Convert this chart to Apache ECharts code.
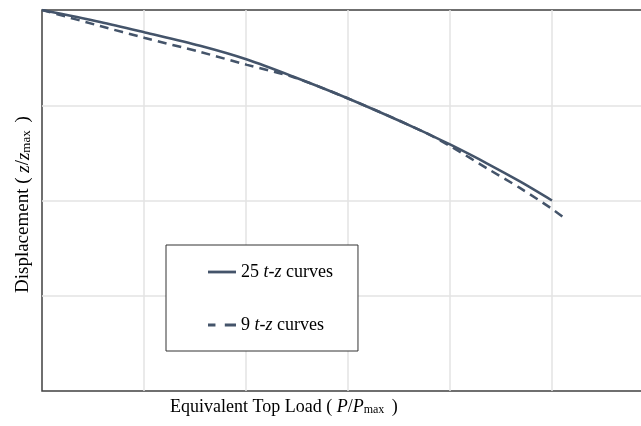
<!DOCTYPE html>
<html>
<head>
<meta charset="utf-8">
<script src="https://cdn.jsdelivr.net/npm/echarts@6/dist/echarts.min.js"></script>
<style>
  html, body { margin: 0; padding: 0; background: #fff; }
  #chart { width: 641px; height: 426px; }
</style>
</head>
<body>
<div id="chart"></div>
<script>
// P/Pmax on x, z/zmax on y (negative = downward displacement)
var loadRatio25 = [0, 0.114, 0.202, 0.31, 0.402, 0.492, 0.598, 0.741, 0.8, 0.873, 0.937, 1.0];
var disp25 = [0, -0.0315, -0.059, -0.094, -0.130, -0.1745, -0.231, -0.315, -0.353, -0.403, -0.450, -0.5];

var loadRatio9 = [0, 0.114, 0.202, 0.31, 0.402, 0.492, 0.598, 0.741, 0.8, 0.878, 0.937, 1.0, 1.029];
var disp9 = [0, -0.042, -0.0735, -0.110, -0.144, -0.176, -0.231, -0.315, -0.357, -0.420, -0.467, -0.522, -0.551];

var seriesNames = ['25 t-z curves', '9 t-z curves'];

var lineColor = '#44546A';
var serif = '"Liberation Serif", "DejaVu Serif", serif';

function toPairs(xs, ys) {
  var out = [];
  for (var i = 0; i < xs.length; i++) {
    out.push([xs[i], ys[i]]);
  }
  return out;
}

// rich styles for axis titles (italic symbols + subscript)
function titleRich(size, subSize) {
  return {
    n: { fontFamily: serif, fontSize: size, color: '#000', lineHeight: size + 4, verticalAlign: 'bottom' },
    i: { fontFamily: serif, fontSize: size, fontStyle: 'italic', color: '#000', lineHeight: size + 4, verticalAlign: 'bottom' },
    s: { fontFamily: serif, fontSize: subSize, color: '#000', lineHeight: subSize, verticalAlign: 'bottom', padding: [0, 3, 0, 0] }
  };
}

var gridLine = {
  showMinLine: false,
  showMaxLine: false,
  lineStyle: { color: '#e3e3e3', width: 1.5 }
};

var chart = echarts.init(document.getElementById('chart'));

var option = {
  backgroundColor: '#fff',
  animation: false,
  grid: {
    left: 42,
    top: 10,
    width: 612,
    bottom: 35,
    outerBoundsMode: 'none',
    containLabel: false,
    show: true,
    borderColor: '#404040',
    borderWidth: 1.5
  },
  xAxis: {
    type: 'value',
    min: 0,
    max: 1.2,
    interval: 0.2,
    axisLine: { show: false },
    axisTick: { show: false },
    axisLabel: { show: false },
    splitLine: gridLine
  },
  yAxis: {
    type: 'value',
    min: -1,
    max: 0,
    interval: 0.25,
    axisLine: { show: false },
    axisTick: { show: false },
    axisLabel: { show: false },
    splitLine: gridLine
  },
  legend: {
    orient: 'vertical',
    left: 166,
    top: 245,
    backgroundColor: '#fff',
    borderColor: '#333',
    borderWidth: 1,
    borderRadius: 0,
    padding: [18, 25, 17, 42],
    itemWidth: 28,
    itemHeight: 3,
    itemGap: 35,
    data: [
      { name: seriesNames[0], icon: 'path://M0,0H30V3H0Z' },
      { name: seriesNames[1], icon: 'path://M0,0H8V3H0ZM18,0H30V3H18Z' }
    ],
    formatter: function (name) {
      var parts = name.split(' ');
      return '{n|' + parts[0] + ' }{i|' + parts[1] + '}{n| ' + parts[2] + '}';
    },
    textStyle: {
      rich: {
        n: { fontFamily: serif, fontSize: 18, color: '#000', lineHeight: 20 },
        i: { fontFamily: serif, fontSize: 18, fontStyle: 'italic', color: '#000', lineHeight: 20 }
      }
    }
  },
  graphic: [
    {
      type: 'text',
      left: 170,
      top: 398,
      style: {
        text: '{n|Equivalent Top Load ( }{i|P}{n|/}{i|P}{s|max}{n| )}',
        rich: titleRich(18, 12)
      }
    },
    {
      type: 'text',
      x: 10,
      y: 293,
      rotation: Math.PI / 2,
      style: {
        text: '{n|Displacement ( }{i|z}{n|/}{i|z}{s|max}{n| )}',
        rich: titleRich(19, 13)
      }
    }
  ],
  series: [
    {
      name: seriesNames[0],
      type: 'line',
      symbol: 'none',
      smooth: 0.3,
      data: toPairs(loadRatio25, disp25),
      lineStyle: { color: lineColor, width: 2.5 },
      itemStyle: { color: lineColor }
    },
    {
      name: seriesNames[1],
      type: 'line',
      symbol: 'none',
      smooth: 0.3,
      data: toPairs(loadRatio9, disp9),
      lineStyle: { color: lineColor, width: 2.5, type: [9, 6] },
      itemStyle: { color: lineColor }
    }
  ]
};

chart.setOption(option);
</script>
</body>
</html>
